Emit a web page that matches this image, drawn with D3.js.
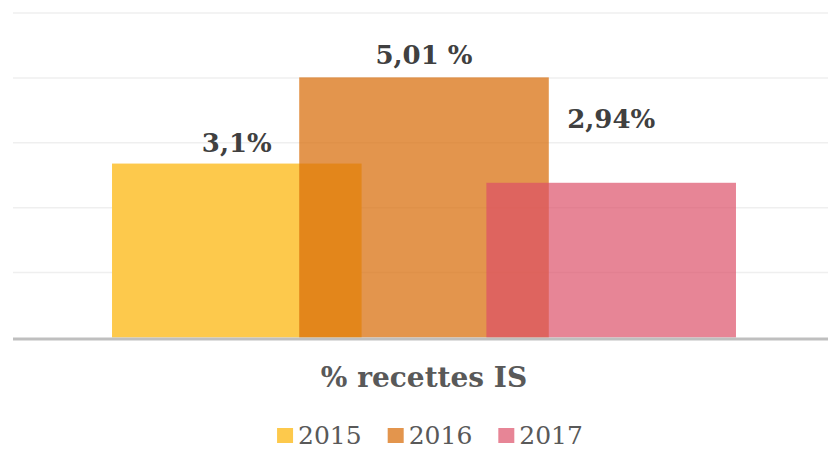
<!DOCTYPE html>
<html>
<head>
<meta charset="utf-8">
<script src="https://cdn.jsdelivr.net/npm/d3@7"></script>
<style>
  html, body { margin: 0; padding: 0; background: #fff; }
  svg { display: block; }
</style>
</head>
<body>
<svg id="chart" width="828" height="450"></svg>
<script>
// ---- data ----
const categories = ["% recettes IS"];
const seriesNames = ["2015", "2016", "2017"];
const seriesValues = [3.35, 5.01, 2.98];
const labelTexts = ["3,1%", "5,01 %", "2,94%"];
const yTicks = [0, 1.25, 2.5, 3.75, 5, 6.25];

// ---- styles / layout ----
const W = 828, H = 450;
const plot = { left: 13, right: 835, top: 13, bottom: 337.5 };
const colors = ["#FDC94C", "rgb(216,108,9)", "rgb(220,78,103)"];
const opacities = [1, 0.72, 0.69];
const overlap = 0.25;
const labelLift = [12, 13, 55];

const svg = d3.select("#chart");

const y = d3.scaleLinear().domain([0, 6.25]).range([plot.bottom, plot.top]);
const x0 = d3.scaleBand().domain(categories).range([plot.left, plot.right])
  .paddingInner(0).paddingOuter(0.1587);

const groupW = x0.bandwidth();
const barW = groupW / (seriesNames.length - (seriesNames.length - 1) * overlap);
const xs = d3.scaleLinear().domain([0, 1]).range([0, barW * (1 - overlap)]);

// gridlines
svg.append("g").selectAll("line")
  .data(yTicks.filter(d => d > 0))
  .join("line")
  .attr("x1", plot.left).attr("x2", plot.right)
  .attr("y1", d => y(d)).attr("y2", d => y(d))
  .attr("stroke", "#EFEFEF").attr("stroke-width", 1.5);

// bars
const series = seriesNames.map((name, i) => ({ name, value: seriesValues[i], label: labelTexts[i], i }));
categories.forEach(cat => {
  const gx = x0(cat);
  svg.append("g").selectAll("rect")
    .data(series)
    .join("rect")
    .attr("x", d => gx + xs(d.i))
    .attr("width", barW)
    .attr("y", d => y(d.value))
    .attr("height", d => y(0) - y(d.value))
    .attr("fill", d => colors[d.i])
    .attr("fill-opacity", d => opacities[d.i]);

  svg.append("g").selectAll("text")
    .data(series)
    .join("text")
    .attr("x", d => gx + xs(d.i) + barW / 2)
    .attr("y", d => y(d.value) - labelLift[d.i])
    .attr("text-anchor", "middle")
    .attr("font-family", "DejaVu Serif")
    .attr("font-weight", "bold")
    .attr("font-size", 26)
    .attr("fill", "#404040")
    .text(d => d.label);
});

// baseline axis
svg.append("line")
  .attr("x1", plot.left).attr("x2", plot.right)
  .attr("y1", y(0) + 1.5).attr("y2", y(0) + 1.5)
  .attr("stroke", "#BFBFBF").attr("stroke-width", 3);

// category title
svg.append("g").selectAll("text")
  .data(categories)
  .join("text")
  .attr("x", d => x0(d) + groupW / 2)
  .attr("y", 387)
  .attr("text-anchor", "middle")
  .attr("font-family", "DejaVu Serif")
  .attr("font-weight", "bold")
  .attr("font-size", 28)
  .attr("fill", "#595959")
  .text(d => d);

// legend
const legend = svg.append("g");
const items = legend.selectAll("g").data(series).join("g");
items.append("rect")
  .attr("width", 16).attr("height", 15).attr("y", 428)
  .attr("fill", d => colors[d.i]).attr("fill-opacity", d => opacities[d.i]);
items.append("text")
  .attr("x", 21).attr("y", 444)
  .attr("font-family", "DejaVu Serif")
  .attr("font-size", 25)
  .attr("fill", "#595959")
  .text(d => d.name);
let cx = 0;
const gap = 26;
items.each(function () {
  const t = d3.select(this).select("text").node().getComputedTextLength();
  d3.select(this).attr("transform", `translate(${cx},0)`);
  cx += 21 + t + gap;
});
const total = cx - gap;
legend.attr("transform", `translate(${430 - total / 2},0)`);
</script>
</body>
</html>
